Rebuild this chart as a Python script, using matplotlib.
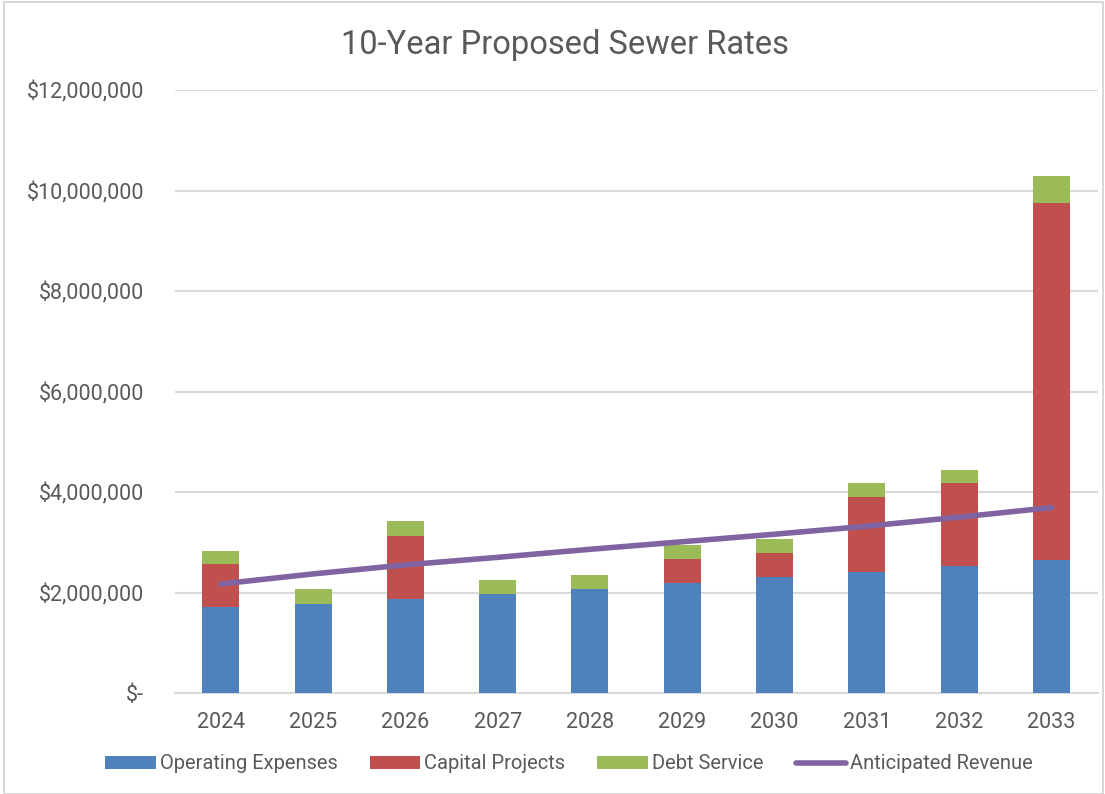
import numpy as np
import matplotlib
matplotlib.use('Agg')
import matplotlib.pyplot as plt
from matplotlib.ticker import FuncFormatter
from matplotlib.patches import Rectangle

plt.rcParams['font.family'] = ['Roboto', 'DejaVu Sans']

years = ['2024', '2025', '2026', '2027', '2028', '2029', '2030', '2031', '2032', '2033']
# 各项费用（美元）
operating = [1720000, 1780000, 1870000, 1980000, 2070000, 2180000, 2300000, 2410000, 2520000, 2650000]
capital = [850000, 0, 1260000, 0, 0, 490000, 490000, 1490000, 1660000, 7110000]
debt = [260000, 290000, 290000, 270000, 270000, 280000, 270000, 280000, 260000, 520000]
revenue = [2170000, 2370000, 2550000, 2700000, 2860000, 3010000, 3160000, 3320000, 3500000, 3690000]

text_color = '#595959'
grid_color = '#d9d9d9'

fig = plt.figure(figsize=(11.05, 7.94), dpi=100)
ax = fig.add_axes([0.158, 0.1272, 0.8353, 0.7594])

x = np.arange(len(years))
w = 0.4
op = np.array(operating)
cap = np.array(capital)
dbt = np.array(debt)
b1 = ax.bar(x, op, w, color='#4F81BD', label='Operating Expenses', zorder=3)
b2 = ax.bar(x, cap, w, bottom=op, color='#C0504D', label='Capital Projects', zorder=3)
b3 = ax.bar(x, dbt, w, bottom=op + cap, color='#9BBB59', label='Debt Service', zorder=3)
l1, = ax.plot(x, revenue, color='#8064A2', lw=4, solid_capstyle='round', label='Anticipated Revenue', zorder=4)

ax.set_xlim(-0.5, len(years) - 0.5)
ax.set_ylim(0, 12000000)
ax.set_yticks(np.arange(0, 12000001, 2000000))


def money(v, pos):
    if v == 0:
        return '$-'
    return '${:,.0f}'.format(v)


ax.yaxis.set_major_formatter(FuncFormatter(money))
ax.set_xticks(x)
ax.set_xticklabels(years)
ax.tick_params(axis='both', length=0, labelsize=15.5, colors=text_color)
ax.tick_params(axis='y', pad=22)
ax.tick_params(axis='x', pad=14)
ax.grid(axis='y', color=grid_color, lw=1.5, zorder=0)
for s in ['top', 'right', 'left']:
    ax.spines[s].set_visible(False)
ax.spines['bottom'].set_color(grid_color)
ax.spines['bottom'].set_linewidth(1.5)

fig.text(0.511, 0.943, '10-Year Proposed Sewer Rates', ha='center', va='center',
         fontsize=23.5, color=text_color)

leg = fig.legend([b1, b2, b3, l1],
                 ['Operating Expenses', 'Capital Projects', 'Debt Service', 'Anticipated Revenue'],
                 loc='center', bbox_to_anchor=(0.515, 0.038), ncol=4, frameon=False,
                 fontsize=14.5, labelcolor=text_color, handlelength=2.5, handleheight=0.6,
                 handletextpad=0.2, columnspacing=1.6)

fig.patches.append(Rectangle((0.004, 0.0), 0.994, 0.998, transform=fig.transFigure,
                             fill=False, edgecolor='#d0d0d0', lw=1.2))

fig.savefig('out.png', dpi=100)
